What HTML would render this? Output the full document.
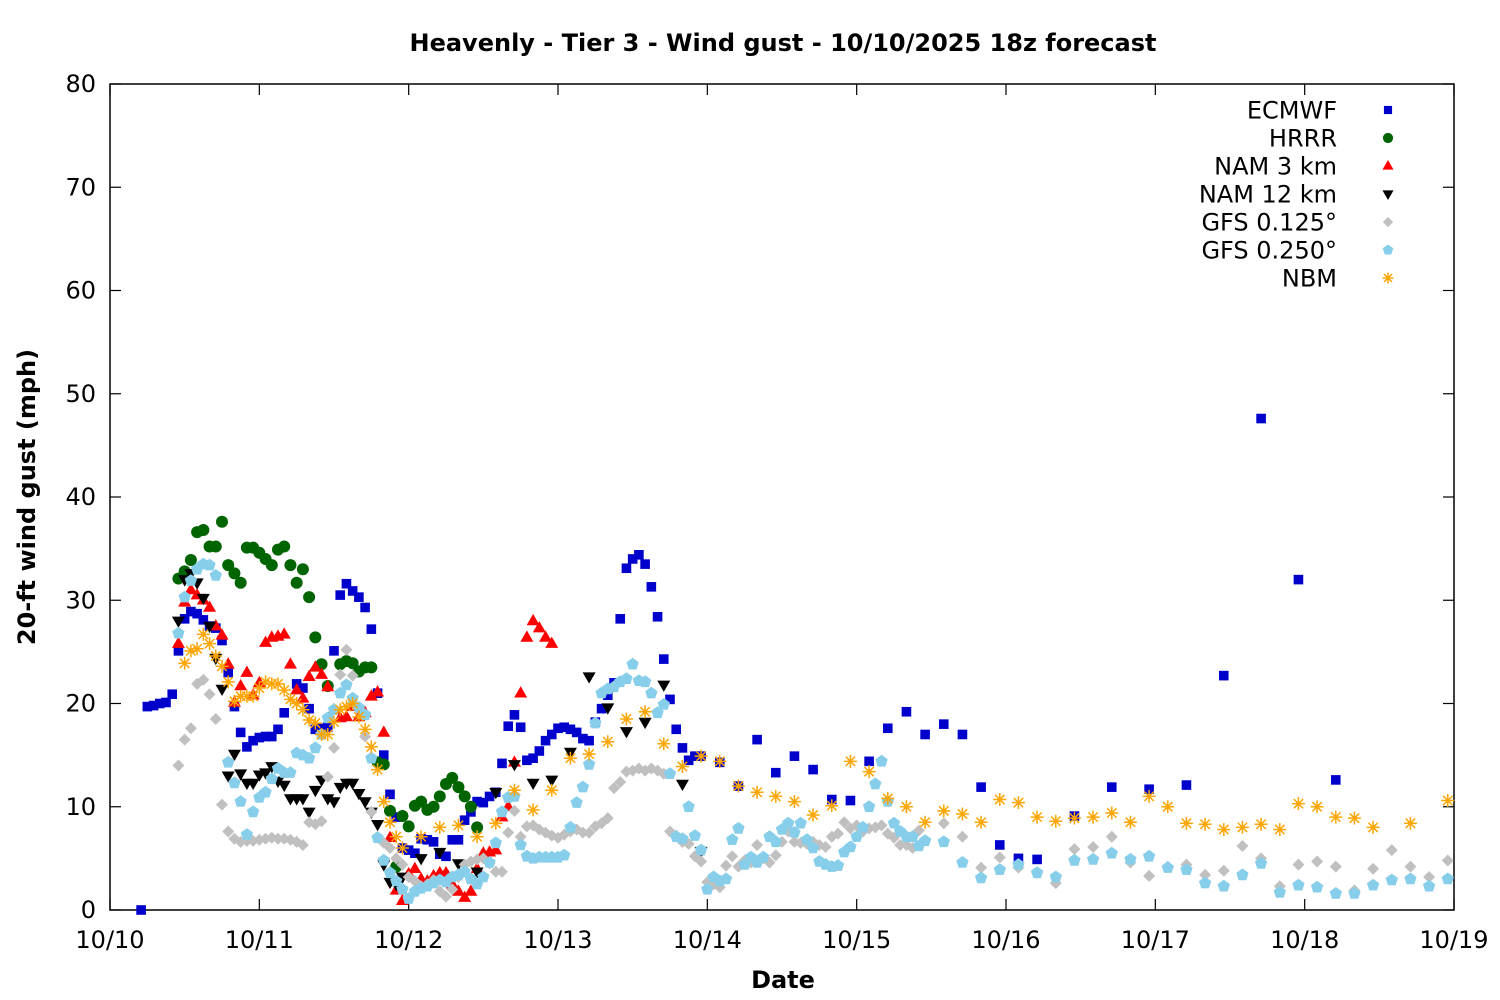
<!DOCTYPE html>
<html><head><meta charset="utf-8"><title>Heavenly wind gust forecast</title>
<style>
html,body{margin:0;padding:0;background:#fff;}
svg{display:block;font-family:"DejaVu Sans","Liberation Sans",sans-serif;}
</style></head>
<body>
<svg id="chart" width="1500" height="1000" viewBox="0 0 1500 1000" xmlns="http://www.w3.org/2000/svg">
<rect width="1500" height="1000" fill="#fff"/>
<text x="783" y="51" text-anchor="middle" font-size="24" font-weight="bold">Heavenly - Tier 3 - Wind gust - 10/10/2025 18z forecast</text>
<g id="axes"></g>
<g id="marks"></g>
<g id="legend"></g>
<text x="783" y="988" text-anchor="middle" font-size="24" font-weight="bold">Date</text>
<text transform="translate(35,497) rotate(-90)" text-anchor="middle" font-size="24" font-weight="bold">20-ft wind gust (mph)</text>
</svg>
<script>
// ---- data (hours since 10/10 00z, gust in mph) ----
const xTickLabels=["10/10","10/11","10/12","10/13","10/14","10/15","10/16","10/17","10/18","10/19"];
const yTickLabels=[0,10,20,30,40,50,60,70,80];
const seriesNames=["ECMWF","HRRR","NAM 3 km","NAM 12 km","GFS 0.125°","GFS 0.250°","NBM"];

const ecmwfHours=[5,6,7,8,9,10,11,12,13,14,15,16,17,18,19,20,21,22,23,24,25,26,27,28,
30,31,32,33,34,35,36,37,38,39,40,41,42,43,44,45,46,47,48,49,50,51,52,53,54,55,56,57,58,59,60,61,62,63,64,65,66,67,68,69,70,71,72,73,74,75,76,77,78,79,80,81,82,83,84,85,86,87,88,89,90,91,92,93,94,95,
98,101,104,107,110,113,116,119,122,125,128,131,134,137,140,143,146,149,155,161,167,173,179,185,191,197];
const ecmwfValues=[0,19.7,19.8,20,20.1,20.9,25.1,28.2,28.9,28.7,28.1,27.5,27.3,26.1,23,19.7,17.2,15.8,16.4,16.7,16.8,16.8,17.5,19.1,
21.9,21.5,19.5,17.5,17.6,17.7,25.1,30.5,31.6,30.9,30.3,29.3,27.2,21,15,11.2,9,6,5.8,5.5,6.9,6.8,6.6,5.4,5.2,6.8,6.8,8.7,9.5,10.5,10.4,11,11.4,14.2,17.8,18.9,17.7,14.5,14.7,15.4,16.4,17,17.6,17.7,17.5,17.2,16.6,16.4,18.2,19.5,20.8,22,28.2,33.1,34,34.4,33.5,31.3,28.4,24.3,20.4,17.5,15.7,14.5,14.9,14.9,
14.3,12,16.5,13.3,14.9,13.6,10.7,10.6,14.4,17.6,19.2,17,18,17,11.9,6.3,5,4.9,9.1,11.9,11.7,12.1,22.7,47.6,32,12.6];

const hrrrHours=[11,12,13,14,15,16,17,18,19,20,21,22,23,24,25,26,27,28,29,30,31,32,33,34,35,37,38,39,40,41,42,43,44,45,46,47,48,49,50,51,52,53,54,55,56,57,58,59];
const hrrrValues=[32.1,32.8,33.9,36.6,36.8,35.2,35.2,37.6,33.4,32.6,31.7,35.1,35.1,34.6,34,33.4,34.9,35.2,33.4,31.7,33,30.3,26.4,23.8,21.7,23.8,24.1,23.9,23.1,23.5,23.5,14.3,14.1,9.6,4.2,9.1,8.1,10.1,10.5,9.7,10,11,12.2,12.8,11.9,11,10,8];

const nam3Hours=[11,12,13,14,15,16,17,18,19,20,21,22,23,24,25,26,27,28,29,30,31,32,33,34,35,36,37,38,39,40,41,42,43,44,45,46,47,48,49,50,51,52,53,54,55,56,57,58,59,60,61,62,63,64,65,66,67,68,69,70,71];
const nam3Values=[25.8,29.8,31,30.5,30,29.3,27.5,26.6,23.8,20.1,21.7,23,20.8,22,25.9,26.4,26.5,26.7,23.8,21.3,20.5,22.6,23.5,22.8,21.6,19.4,18.6,18.7,19.7,18.7,19.1,20.7,21.1,17.2,7,1.9,0.9,3.5,4,3,2.8,3.3,3.6,3.6,2.5,1.8,1.2,1.8,4,5.5,5.6,5.8,9,10,14.3,21,26.4,28,27.3,26.4,25.8];

const nam12Hours=[11,12,13,14,15,16,17,18,19,20,21,22,23,24,25,26,27,28,29,30,31,32,33,34,35,36,37,38,39,40,41,42,43,44,45,46,47,50,53,56,59,62,65,68,71,74,77,80,83,86,89,92,95];
const nam12Values=[28,32,32.6,31.7,30.2,27.5,24.4,21.4,13,15.1,13.2,12.3,12.3,13.1,13.3,13.9,12.5,12.1,10.8,10.8,10.8,9.5,11.6,12.6,10.8,10.5,11.9,12.3,12.3,11.3,10.5,9.5,8.3,4.4,2.7,2.5,3.2,5,5.6,4.5,3.7,11.4,14.1,12.3,12.6,15.3,22.6,19.6,17.3,18.2,21.8,12.2,5.7];

const gfs125Hours=[11,12,13,14,15,16,17,18,19,20,21,22,23,24,25,26,27,28,29,30,31,32,33,34,35,36,37,38,39,40,41,42,43,44,45,46,47,48,49,50,51,52,53,54,55,56,57,58,59,60,61,62,63,64,65,66,67,68,69,70,71,72,73,74,75,76,77,78,79,80,81,82,83,84,85,86,87,88,89,90,91,92,93,94,95,96,97,98,99,100,101,102,103,104,105,106,107,108,109,110,111,112,113,114,115,116,117,118,119,120,121,122,123,124,125,126,127,128,129,130,
134,137,140,143,146,149,152,155,158,161,164,167,170,173,176,179,182,185,188,191,194,197,200,203,206,209,212,215];
const gfs125Values=[14,16.5,17.6,21.9,22.3,20.9,18.5,10.2,7.6,6.9,6.6,6.7,6.7,6.8,6.9,7,6.9,6.9,6.8,6.6,6.3,8.5,8.3,8.6,12.9,15.7,22.8,25.2,22.7,19.5,16.8,9.5,7.1,6.5,6,5,4.4,3.2,2.8,2.3,2.5,2.9,1.8,1.3,2,3.2,4.4,4.7,4.9,5,4.5,3.7,3.7,7.5,9.6,7.1,8.1,8.2,7.8,7.5,7.2,7,7.3,7.6,7.8,7.5,7.5,8.1,8.4,8.9,11.8,12.4,13.4,13.5,13.7,13.5,13.7,13.5,13.2,7.6,7.2,6.6,6.4,5.2,4.7,2.7,2.5,2.2,4.3,5.2,4.2,4.8,4.6,6.3,5,4.6,5.3,6.6,7.6,6.6,6.5,6.4,6.6,6.3,6.1,7.1,7.4,8.5,7.9,8.2,7.6,7.9,8,8.2,7.4,7,6.3,6.3,6,7.7,
8.4,7.1,4.1,5.1,4.1,3.6,2.6,5.9,6.1,7.1,4.6,3.3,4.2,4.4,3.4,3.8,6.2,5,2.3,4.4,4.7,4.2,1.9,4,5.8,4.2,3.2,4.8];

const gfs25Hours=[11,12,13,14,15,16,17,19,20,21,22,23,24,25,26,27,28,29,30,31,32,33,34,35,36,37,38,39,40,41,42,43,44,45,46,47,48,49,50,51,52,53,54,55,56,57,58,59,60,61,62,63,64,65,66,67,68,69,70,71,72,73,74,75,76,77,78,79,80,81,82,83,84,85,86,87,88,89,90,91,92,93,94,95,96,97,98,99,100,101,102,103,104,105,106,107,108,109,110,111,112,113,114,115,116,117,118,119,120,121,122,123,124,125,126,127,128,129,130,131,
134,137,140,143,146,149,152,155,158,161,164,167,170,173,176,179,182,185,188,191,194,197,200,203,206,209,212,215];
const gfs25Values=[26.8,30.3,31.9,33,33.5,33.4,32.4,14.3,12.3,10.5,7.3,9.5,10.9,11.4,12.7,13.7,13.3,13.3,15.2,15,14.7,15.7,17,18.6,19.4,21,21.8,20.5,19.6,18.9,14.7,7,4.8,3.6,2.8,2,1.1,1.8,2.1,2.3,2.6,2.9,2.7,3.2,3.4,3.7,3,2.5,3.2,4.6,6.5,9.5,10.9,11,6.3,5.2,5,5.1,5.1,5.1,5.1,5.3,8,10.4,11.9,14.1,18.1,21,21.4,21.6,22.1,22.4,23.8,22.2,22.1,21,19.1,19.9,13.2,7.1,6.9,10,7.2,5.8,2,3.2,2.8,3,6.8,7.9,4.4,5.1,4.6,5.1,7.1,6.6,7.8,8.4,7.5,8.4,6.8,6,4.7,4.4,4.2,4.3,5.6,6.1,7.1,8,10,12.2,14.4,10.5,8.4,7.6,7.1,7.1,6.2,6.7,
6.6,4.6,3.1,3.9,4.4,3.6,3.2,4.8,4.9,5.5,4.9,5.2,4.1,3.9,2.6,2.3,3.4,4.5,1.7,2.4,2.2,1.6,1.6,2.4,2.9,3,2.3,3];

const nbmHours=[12,13,14,15,16,17,18,19,20,21,22,23,24,25,26,27,28,29,30,31,32,33,34,35,36,37,38,39,40,41,42,43,44,45,46,47,50,53,56,59,62,65,68,71,74,77,80,83,86,89,92,95,98,
101,104,107,110,113,116,119,122,125,128,131,134,137,140,143,146,149,152,155,158,161,164,167,170,173,176,179,182,185,188,191,194,197,200,203,209,215];
const nbmValues=[23.9,25.1,25.3,26.7,25.8,24.6,23.6,22.1,20.2,20.7,20.7,20.7,21.5,22.1,21.9,21.9,21.3,20.4,20,19.4,18.4,18.1,17,17,18.2,19.4,19.7,20,18.7,17.5,15.8,13.6,10.5,8.5,7.1,6,7.1,8,8.2,7.1,8.4,11.6,9.7,11.6,14.7,15.1,16.3,18.5,19.2,16.1,13.9,14.9,14.4,
12,11.4,11,10.5,9.2,10.1,14.4,13.4,10.8,10,8.5,9.6,9.3,8.5,10.7,10.4,9,8.6,8.9,9,9.4,8.5,11,10,8.4,8.3,7.8,8,8.3,7.8,10.3,10,9,8.9,8,8.4,10.6];

// ---- layout ----
const X0=110,X1=1454,Y0=910,Y1=84;
const HMAX=216,VMAX=80;
function xs(h){return X0+(X1-X0)*h/HMAX;}
function ys(v){return Y0-(Y0-Y1)*v/VMAX;}
const NS="http://www.w3.org/2000/svg";
function mk(tag,attrs,parent){const e=document.createElementNS(NS,tag);for(const k in attrs)e.setAttribute(k,attrs[k]);parent.appendChild(e);return e;}

const axes=document.getElementById('axes');
const frame=mk('rect',{x:X0,y:Y1,width:X1-X0,height:Y0-Y1,fill:'none',stroke:'#000','stroke-width':1.5},axes);


yTickLabels.forEach((t)=>{
  const y=ys(t);
  const l1=mk('line',{x1:X0,x2:X0+11,y1:y,y2:y,stroke:'#000','stroke-width':1.2},axes);
  
  
  const l2=mk('line',{x1:X1-11,x2:X1,y1:y,y2:y,stroke:'#000','stroke-width':1.2},axes);
  
  
  const tx=mk('text',{x:96,y:y+8,'text-anchor':'end','font-size':24},axes);
  tx.textContent=t;
  
  
});
xTickLabels.forEach((t,i)=>{
  const x=xs(i*24);
  const l1=mk('line',{x1:x,x2:x,y1:Y0,y2:Y0-11,stroke:'#000','stroke-width':1.2},axes);
  
  
  const l2=mk('line',{x1:x,x2:x,y1:Y1,y2:Y1+11,stroke:'#000','stroke-width':1.2},axes);
  
  
  const tx=mk('text',{x:x,y:948,'text-anchor':'middle','font-size':24},axes);
  tx.textContent=t;
  
  
});

// ---- markers ----
function drawMarker(kind,cx,cy,s,parent){
  let e;
  if(kind==='square'){e=mk('rect',{x:cx-4.8*s,y:cy-4.8*s,width:9.6*s,height:9.6*s,fill:'#0000cc'},parent);}
  else if(kind==='circle'){e=mk('circle',{cx:cx,cy:cy,r:6*s,fill:'#006400'},parent);}
  else if(kind==='up'){e=mk('polygon',{points:`${cx},${cy-7*s} ${cx+6.5*s},${cy+4.3*s} ${cx-6.5*s},${cy+4.3*s}`,fill:'#ff0000'},parent);}
  else if(kind==='down'){e=mk('polygon',{points:`${cx},${cy+7*s} ${cx+6.5*s},${cy-4.3*s} ${cx-6.5*s},${cy-4.3*s}`,fill:'#000'},parent);}
  else if(kind==='diamond'){e=mk('polygon',{points:`${cx},${cy-6*s} ${cx+6*s},${cy} ${cx},${cy+6*s} ${cx-6*s},${cy}`,fill:'#c0c0c0'},parent);}
  else if(kind==='pent'){let p=[];for(let k=0;k<5;k++){const a=-Math.PI/2+k*2*Math.PI/5;p.push((cx+6.5*s*Math.cos(a)).toFixed(1)+','+(cy+6.5*s*Math.sin(a)).toFixed(1));}e=mk('polygon',{points:p.join(' '),fill:'#87ceeb'},parent);}
  else {let d='';const r=6.5*s;d+=`M${cx-r},${cy}H${cx+r}M${cx},${cy-r}V${cy+r}`;const q=r*0.72;d+=`M${cx-q},${cy-q}L${cx+q},${cy+q}M${cx-q},${cy+q}L${cx+q},${cy-q}`;e=mk('path',{d:d,stroke:'#ffa500','stroke-width':1.5,fill:'none'},parent);}
  return e;
}
const series=[
  {hours:ecmwfHours,values:ecmwfValues,kind:'square',slug:'ecmwf'},
  {hours:hrrrHours,values:hrrrValues,kind:'circle',slug:'hrrr'},
  {hours:nam3Hours,values:nam3Values,kind:'up',slug:'nam-3km'},
  {hours:nam12Hours,values:nam12Values,kind:'down',slug:'nam-12km'},
  {hours:gfs125Hours,values:gfs125Values,kind:'diamond',slug:'gfs-0125'},
  {hours:gfs25Hours,values:gfs25Values,kind:'pent',slug:'gfs-0250'},
  {hours:nbmHours,values:nbmValues,kind:'star',slug:'nbm'}
];
const marks=document.getElementById('marks');
series.forEach(s=>{
  const g=mk('g',{},marks);
  
  
  const n=Math.min(s.hours.length,s.values.length);
  for(let i=0;i<n;i++){
    const e=drawMarker(s.kind,xs(s.hours[i]),ys(s.values[i]),1,g);
    
    
  }
});

// ---- legend ----
const legend=document.getElementById('legend');
seriesNames.forEach((name,i)=>{
  const y=110+i*28;
  const g=mk('g',{},legend);
  
  
  const tx=mk('text',{x:1337,y:y+8.5,'text-anchor':'end','font-size':24},g);
  tx.textContent=name;
  
  
  const m=drawMarker(series[i].kind,1388,y,0.85,g);
  
  
});
</script>
</body></html>
